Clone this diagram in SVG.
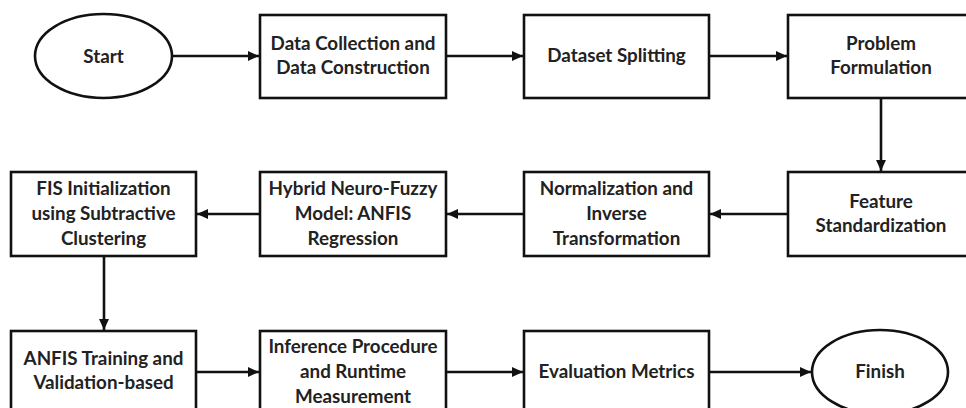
<svg xmlns="http://www.w3.org/2000/svg" width="966" height="408" viewBox="0 0 966 408">
<defs>
<style>
.n{fill:#fff;stroke:#111;stroke-width:2.6}
.t{font-family:Lato,"Open Sans","Liberation Sans",sans-serif;font-weight:700;font-size:18.8px;fill:#222;text-anchor:middle}
.c{fill:none;stroke:#111;stroke-width:2.6}
</style>
<marker id="ah" viewBox="0 0 10 10" refX="10" refY="5" markerWidth="11" markerHeight="11" markerUnits="userSpaceOnUse" orient="auto">
<path d="M0,0.5 L10,5 L0,9.5 Z" fill="#111"/>
</marker>
</defs>
<rect width="966" height="408" fill="#fff"/>
<g id="connectors">
<line class="c" x1="172" y1="56" x2="259" y2="56" marker-end="url(#ah)"/>
<line class="c" x1="446" y1="56" x2="523" y2="56" marker-end="url(#ah)"/>
<line class="c" x1="709" y1="56" x2="787" y2="56" marker-end="url(#ah)"/>
<line class="c" x1="881" y1="98" x2="881" y2="171" marker-end="url(#ah)"/>
<line class="c" x1="788" y1="214" x2="710" y2="214" marker-end="url(#ah)"/>
<line class="c" x1="524" y1="214" x2="447" y2="214" marker-end="url(#ah)"/>
<line class="c" x1="260" y1="214" x2="197" y2="214" marker-end="url(#ah)"/>
<line class="c" x1="104" y1="256" x2="104" y2="330" marker-end="url(#ah)"/>
<line class="c" x1="196" y1="372" x2="259" y2="372" marker-end="url(#ah)"/>
<line class="c" x1="446" y1="372" x2="523" y2="372" marker-end="url(#ah)"/>
<line class="c" x1="709" y1="372" x2="811" y2="372" marker-end="url(#ah)"/>
</g>
<g id="start"><ellipse class="n" cx="103.5" cy="56" rx="68.5" ry="42"/><text class="t" x="103.5" y="63">Start</text></g>
<g id="data-collection"><rect class="n" x="260" y="15" width="186" height="83"/><text class="t" x="353" y="50">Data Collection and</text><text class="t" x="353" y="74">Data Construction</text></g>
<g id="dataset-splitting"><rect class="n" x="524" y="15" width="185" height="83"/><text class="t" x="616.5" y="62">Dataset Splitting</text></g>
<g id="problem-formulation"><rect class="n" x="788" y="15" width="186" height="83"/><text class="t" x="881" y="50">Problem</text><text class="t" x="881" y="74">Formulation</text></g>
<g id="feature-standardization"><rect class="n" x="788" y="172" width="186" height="84"/><text class="t" x="881" y="208">Feature</text><text class="t" x="881" y="232">Standardization</text></g>
<g id="normalization"><rect class="n" x="524" y="172" width="185" height="84"/><text class="t" x="616.5" y="195">Normalization and</text><text class="t" x="616.5" y="220">Inverse</text><text class="t" x="616.5" y="245">Transformation</text></g>
<g id="hybrid"><rect class="n" x="260" y="172" width="186" height="84"/><text class="t" x="353" y="195">Hybrid Neuro-Fuzzy</text><text class="t" x="353" y="220">Model: ANFIS</text><text class="t" x="353" y="245">Regression</text></g>
<g id="fis-init"><rect class="n" x="11" y="172" width="185" height="84"/><text class="t" x="103.5" y="195">FIS Initialization</text><text class="t" x="103.5" y="220">using Subtractive</text><text class="t" x="103.5" y="245">Clustering</text></g>
<g id="anfis-training"><rect class="n" x="11" y="331" width="185" height="84"/><text class="t" x="103.5" y="365">ANFIS Training and</text><text class="t" x="103.5" y="389">Validation-based</text></g>
<g id="inference"><rect class="n" x="260" y="331" width="186" height="84"/><text class="t" x="353" y="353">Inference Procedure</text><text class="t" x="353" y="378">and Runtime</text><text class="t" x="353" y="403">Measurement</text></g>
<g id="evaluation"><rect class="n" x="524" y="331" width="185" height="84"/><text class="t" x="616.5" y="378">Evaluation Metrics</text></g>
<g id="finish"><ellipse class="n" cx="880" cy="372" rx="68" ry="42"/><text class="t" x="880" y="378">Finish</text></g>
</svg>
